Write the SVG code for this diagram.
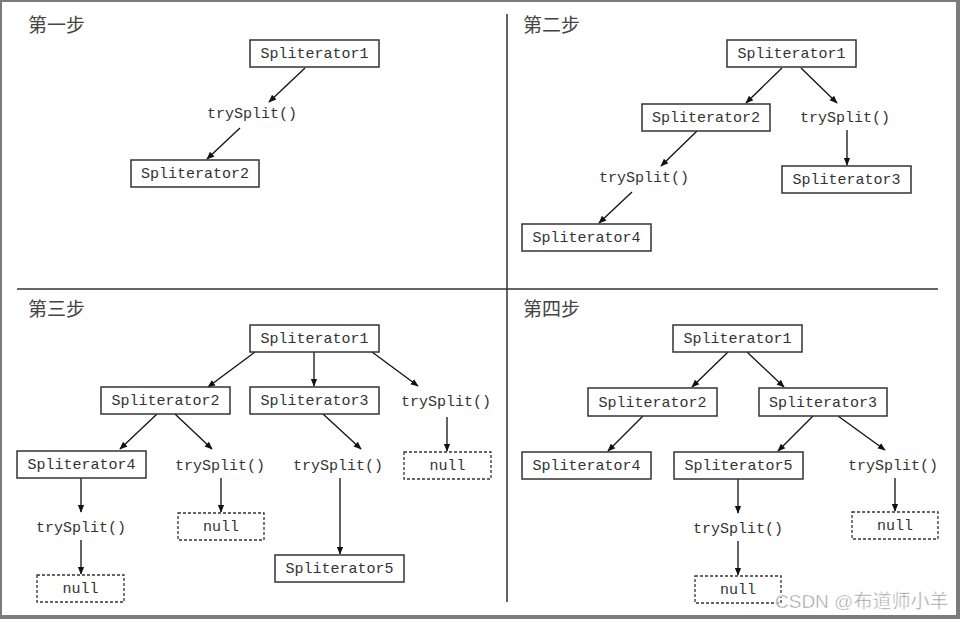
<svg xmlns="http://www.w3.org/2000/svg" width="960" height="619" viewBox="0 0 960 619">
<defs>
<marker id="ah" viewBox="0 0 10 10" refX="9" refY="5" markerWidth="8" markerHeight="8" markerUnits="userSpaceOnUse" orient="auto">
<path d="M0,1 L10,5 L0,9 Z" fill="#111"/>
</marker>
<style>
.box{fill:#fff;stroke:#333;stroke-width:1.5}
.nul{fill:#fff;stroke:#333;stroke-width:1.3;stroke-dasharray:3 2}
.t{font-family:"Liberation Mono","DejaVu Sans Mono",monospace;font-size:15px;fill:#333;text-anchor:middle}
.ttl{font-family:"Noto Sans CJK SC","Noto Sans",sans-serif;font-size:19px;fill:#444}
.c line{stroke:#111;stroke-width:1.3;marker-end:url(#ah)}
.div{stroke:#333;stroke-width:1.5}
</style>
</defs>
<rect x="0" y="0" width="960" height="619" fill="#7b7b7b"/>
<rect x="2" y="2" width="954" height="613" fill="#fff"/>
<line class="div" x1="17" y1="289" x2="938" y2="289"/>
<line class="div" x1="507" y1="14" x2="507" y2="602"/>

<text class="ttl" x="28" y="32">第一步</text>
<text class="ttl" x="523" y="32">第二步</text>
<text class="ttl" x="28" y="316">第三步</text>
<text class="ttl" x="523" y="316">第四步</text>

<g class="c" id="connectors">
<line x1="305" y1="68" x2="269" y2="102"/>
<line x1="240" y1="128" x2="207" y2="159"/>
<line x1="782" y1="68" x2="746" y2="103"/>
<line x1="801" y1="68" x2="837" y2="103"/>
<line x1="847" y1="130" x2="847" y2="165"/>
<line x1="697" y1="131" x2="661" y2="166"/>
<line x1="632" y1="192" x2="599" y2="223"/>
<line x1="255" y1="352" x2="208" y2="387"/>
<line x1="314" y1="352" x2="314" y2="386"/>
<line x1="372" y1="352" x2="418" y2="386"/>
<line x1="447" y1="417" x2="447" y2="451"/>
<line x1="157" y1="414" x2="120" y2="449"/>
<line x1="175" y1="414" x2="212" y2="449"/>
<line x1="221" y1="478" x2="221" y2="512"/>
<line x1="323" y1="414" x2="361" y2="449"/>
<line x1="340" y1="478" x2="340" y2="554"/>
<line x1="81" y1="478" x2="81" y2="512"/>
<line x1="81" y1="540" x2="81" y2="574"/>
<line x1="728" y1="352" x2="692" y2="387"/>
<line x1="747" y1="352" x2="784" y2="387"/>
<line x1="643" y1="416" x2="608" y2="451"/>
<line x1="813" y1="416" x2="778" y2="451"/>
<line x1="838" y1="416" x2="885" y2="450"/>
<line x1="895" y1="478" x2="895" y2="511"/>
<line x1="738" y1="479" x2="738" y2="513"/>
<line x1="738" y1="541" x2="738" y2="575"/>
</g>

<!-- Step 1 -->
<g id="s1-sp1"><rect class="box" x="250" y="40" width="129" height="27"/><text class="t" x="314.5" y="58">Spliterator1</text></g>
<g id="s1-ts"><text class="t" x="252" y="118">trySplit()</text></g>
<g id="s1-sp2"><rect class="box" x="131" y="160" width="128" height="27"/><text class="t" x="195" y="178">Spliterator2</text></g>

<!-- Step 2 -->
<g id="s2-sp1"><rect class="box" x="727" y="40" width="129" height="27"/><text class="t" x="791.5" y="58">Spliterator1</text></g>
<g id="s2-sp2"><rect class="box" x="642" y="104" width="128" height="27"/><text class="t" x="706" y="122">Spliterator2</text></g>
<g id="s2-ts1"><text class="t" x="845" y="122">trySplit()</text></g>
<g id="s2-sp3"><rect class="box" x="782" y="166" width="129" height="27"/><text class="t" x="846.5" y="184">Spliterator3</text></g>
<g id="s2-ts2"><text class="t" x="644" y="182">trySplit()</text></g>
<g id="s2-sp4"><rect class="box" x="522" y="224" width="129" height="27"/><text class="t" x="586.5" y="242">Spliterator4</text></g>

<!-- Step 3 -->
<g id="s3-sp1"><rect class="box" x="250" y="325" width="129" height="27"/><text class="t" x="314.5" y="343">Spliterator1</text></g>
<g id="s3-sp2"><rect class="box" x="101" y="387" width="129" height="27"/><text class="t" x="165.5" y="405">Spliterator2</text></g>
<g id="s3-sp3"><rect class="box" x="250" y="387" width="129" height="27"/><text class="t" x="314.5" y="405">Spliterator3</text></g>
<g id="s3-ts1"><text class="t" x="446" y="406">trySplit()</text></g>
<g id="s3-null1"><rect class="nul" x="404" y="452" width="87" height="27"/><text class="t" x="447.5" y="470">null</text></g>
<g id="s3-sp4"><rect class="box" x="17" y="451" width="129" height="27"/><text class="t" x="81.5" y="469">Spliterator4</text></g>
<g id="s3-ts2"><text class="t" x="220" y="470">trySplit()</text></g>
<g id="s3-null2"><rect class="nul" x="178" y="513" width="86" height="27"/><text class="t" x="221" y="531">null</text></g>
<g id="s3-ts3"><text class="t" x="338" y="470">trySplit()</text></g>
<g id="s3-sp5"><rect class="box" x="275" y="555" width="129" height="27"/><text class="t" x="339.5" y="573">Spliterator5</text></g>
<g id="s3-ts4"><text class="t" x="81" y="532">trySplit()</text></g>
<g id="s3-null3"><rect class="nul" x="37" y="575" width="87" height="27"/><text class="t" x="80.5" y="593">null</text></g>

<!-- Step 4 -->
<g id="s4-sp1"><rect class="box" x="673" y="325" width="129" height="27"/><text class="t" x="737.5" y="343">Spliterator1</text></g>
<g id="s4-sp2"><rect class="box" x="588" y="388" width="129" height="28"/><text class="t" x="652.5" y="407">Spliterator2</text></g>
<g id="s4-sp3"><rect class="box" x="759" y="388" width="128" height="28"/><text class="t" x="823" y="407">Spliterator3</text></g>
<g id="s4-sp4"><rect class="box" x="522" y="452" width="129" height="27"/><text class="t" x="586.5" y="470">Spliterator4</text></g>
<g id="s4-sp5"><rect class="box" x="674" y="452" width="129" height="27"/><text class="t" x="738.5" y="470">Spliterator5</text></g>
<g id="s4-ts1"><text class="t" x="893" y="470">trySplit()</text></g>
<g id="s4-null1"><rect class="nul" x="852" y="512" width="86" height="27"/><text class="t" x="895" y="530">null</text></g>
<g id="s4-ts2"><text class="t" x="738" y="533">trySplit()</text></g>
<g id="s4-null2"><rect class="nul" x="695" y="576" width="86" height="27"/><text class="t" x="738" y="594">null</text></g>

<text x="775" y="608" font-family="'Liberation Sans','Noto Sans CJK SC',sans-serif" font-size="19" fill="#9a9a9a" stroke="#fff" stroke-width="0.5">CSDN @布道师小羊</text>
</svg>
